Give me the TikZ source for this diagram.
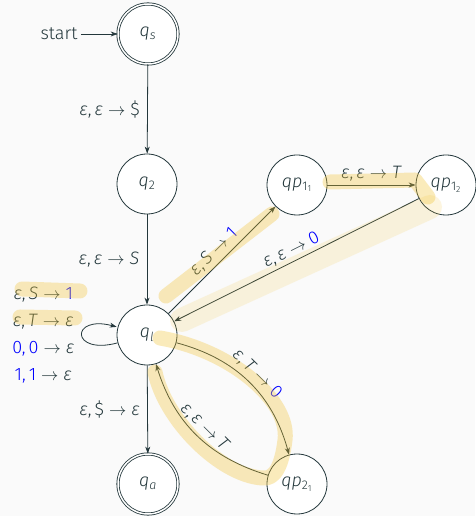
\documentclass[tikz,border=0pt]{standalone}
\usepackage{fontspec}
\setmainfont{Fira Sans}[UprightFont=* Light, ItalicFont=* Light Italic]
\usetikzlibrary{arrows.meta,positioning}
\definecolor{mDarkTeal}{HTML}{23373B}
\definecolor{mBack}{HTML}{FAFAFA}
\definecolor{hilite}{HTML}{F2C12E}
\newcommand{\eps}{\textit{ε}}
\newcommand{\blu}[1]{\textcolor{blue}{#1}}
\newcommand{\ar}{\;$\rightarrow$\;}
\newcommand{\sub}[1]{\textsubscript{#1}}

\begin{document}
\begin{tikzpicture}[x=1pt,y=1pt,color=mDarkTeal,
		font=\fontsize{18}{22}\selectfont]
		\fill[mBack] (0,0) rectangle (475,516);
		\useasboundingbox (0,0) rectangle (475,516);

		\begin{scope}[every node/.style={circle,draw,fill=white,line width=.8pt,
				minimum size=60pt,inner sep=0pt}]
			\node[double,double distance=1.5pt] (A) at (148,482) {\textit{q\sub{s}}};
			\node (B) at (147,332) {\textit{q}\sub{2}};
			\node (C) at (147,181) {\textit{q\sub{l}}};
			\node[double,double distance=1.5pt] (D) at (148,32) {\textit{q\sub{a}}};
			\node (E) at (297,331) {\textit{qp}\sub{1\sub{1}}};
			\node (F) at (446,331) {\textit{qp}\sub{1\sub{2}}};
			\node (G) at (297,32) {\textit{qp}\sub{2\sub{1}}};
		\end{scope}
		\node (start) at (59,482) {start};

		\begin{scope}[>={Stealth[length=7pt,width=5pt]},
			every edge/.style={draw, ->, line width=.8pt}]
			\path (start) edge (A);
			\path (A) edge node[left, xshift=-4pt] {\eps,\,\eps\ar\$} (B);
			\path (B) edge node[left, xshift=-4pt] {\eps,\,\eps\ar\textit{S}} (C);
			\path (C) edge node[left, xshift=-4pt] {\eps,\,\$\ar\eps} (D);
			\path (C) edge[loop left] node[left, xshift=-4pt, align=center,
				font=\fontsize{18}{27}\selectfont]
				{\eps,\,\textit{S}\ar\blu{1}\\ \eps,\,\textit{T}\ar\eps\\
				\blu{0,\,0}\ar\eps\\ \blu{1,\,1}\ar\eps} (C);
			\path (C) edge node[above,sloped] {\eps,\,\textit{S}\ar\blu{1}} (E);
			\path (E) edge node[above] {\eps,\,\eps\ar\textit{T}} (F);
			\path (F) edge node[above,sloped] {\eps,\,\eps\ar\blu{0}} (C);
			\path (C) edge[bend left=30] node[above,sloped] {\eps,\,\textit{T}\ar\blu{0}} (G);
			\path (G) edge[bend left=28] node[above,sloped] {\eps,\,\eps\ar\textit{T}} (C);
		\end{scope}

		% highlighter marks
		\begin{scope}[hilite, opacity=.32, line width=15pt, line cap=round, line join=round]
			\draw (22,227) -- (80,225);
			\draw (20,199) -- (75,198);
			\draw (166,220) -- (272,302);
			\draw (330,334) -- (415,336) -- (428,319);
			\draw[opacity=.15, line width=24pt] (430,309) -- (182,196);
			\draw (160,178) .. controls (230,166) and (290,116) .. (285,76)
				.. controls (282,51) and (275,36) .. (262,38)
				.. controls (220,41) and (165,96) .. (155,144);
		\end{scope}
	\end{tikzpicture}
\end{document}
